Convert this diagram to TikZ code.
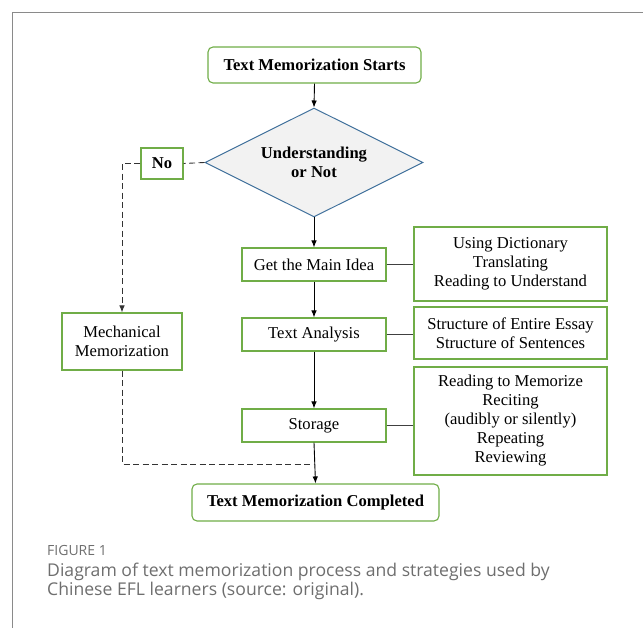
\documentclass[tikz,border=0pt]{standalone}
\usepackage{fontspec}
\setmainfont{Liberation Serif}
\newfontfamily\capfont{Open Sans}
\usetikzlibrary{shapes.geometric,arrows.meta}
\definecolor{gbord}{HTML}{70AD47}
\definecolor{dblue}{HTML}{41719C}
\definecolor{dfill}{HTML}{F2F2F2}
\definecolor{framegray}{HTML}{8A8A8A}
\definecolor{capgray}{HTML}{6E6E6E}
\begin{document}
\begin{tikzpicture}[x=1pt,y=-1pt,
  box/.style={draw=gbord, line width=1.1pt, fill=white, inner sep=0pt, align=center,
    font=\fontsize{16.6}{19}\selectfont},
  rbox/.style={box, rounded corners=5pt, font=\fontsize{16.6}{19}\selectfont\bfseries},
  dec/.style={diamond, draw=dblue, fill=dfill, line width=1pt, inner sep=0pt, aspect=2,
    align=center, font=\fontsize{16.6}{19}\selectfont\bfseries},
  arr/.style={-{Latex[length=7pt,width=5.5pt]}, line width=0.9pt, draw=black},
  dsh/.style={dash pattern=on 6pt off 3.5pt, line width=0.9pt, draw=black!80},
  conn/.style={draw=black!75, line width=0.9pt},
  capt/.style={anchor=base west, inner sep=0pt, text=capgray}
]
\useasboundingbox (0,0) rectangle (643,628);
\draw[framegray, line width=1.2pt] (12.5,628) -- (12.5,12.5) -- (643,12.5);

\node[rbox, minimum width=213pt, minimum height=36pt] (start) at (314.5,65) {Text Memorization Starts};
\node[dec, minimum width=218pt, minimum height=109pt] (q) at (314,162.5) {Understanding\\or Not};
\node[box, font=\fontsize{16.6}{19}\selectfont\bfseries, minimum width=42pt, minimum height=31pt] (no) at (162,163.5) {No};
\node[box, minimum width=120pt, minimum height=57pt] (mech) at (122,341.5) {Mechanical\\Memorization};
\node[box, minimum width=144pt, minimum height=33pt] (main) at (314,264.5) {Get the Main Idea};
\node[box, minimum width=144pt, minimum height=33pt] (ta) at (314,334.5) {Text Analysis};
\node[box, minimum width=144pt, minimum height=33pt] (st) at (314,425.5) {Storage};
\node[box, minimum width=193pt, minimum height=74pt] (r1) at (510.5,264) {Using Dictionary\\Translating\\Reading to Understand};
\node[box, minimum width=193pt, minimum height=52pt] (r2) at (510.5,333) {Structure of Entire Essay\\Structure of Sentences};
\node[box, minimum width=193pt, minimum height=108pt] (r3) at (510.5,421) {Reading to Memorize\\Reciting\\(audibly or silently)\\Repeating\\Reviewing};
\node[rbox, minimum width=247pt, minimum height=37pt] (end) at (315.5,502.5) {Text Memorization Completed};

\draw[arr] (start.south) -- (q.north);
\draw[arr] (q.south) -- (main.north);
\draw[arr] (main.south) -- (ta.north);
\draw[arr] (ta.south) -- (st.north);
\draw[arr] (st.south) -- (end.north);

\draw[conn] (main.east) -- (main.east -| r1.west);
\draw[conn] (ta.east) -- (ta.east -| r2.west);
\draw[conn] (st.east) -- (st.east -| r3.west);

\coordinate (join) at (314,464);
\draw[dsh] (q.west) -- (no.east);
\draw[dsh, -{Latex[length=7pt,width=5.5pt]}] (no.west) -| (mech.north);
\draw[dsh] (mech.south) |- (join);

\node[capt, font=\capfont\fontsize{14}{16}\selectfont] (fig) at (47,555) {FIGURE 1};
\node[capt, font=\capfont\fontsize{17.6}{18.5}\selectfont] (cap1) at (47,576.5) {Diagram of text memorization process and strategies used by};
\node[capt, font=\capfont\fontsize{17.6}{18.5}\selectfont] (cap2) at (47,595) {Chinese EFL learners (source: original).};
\end{tikzpicture}
\end{document}
